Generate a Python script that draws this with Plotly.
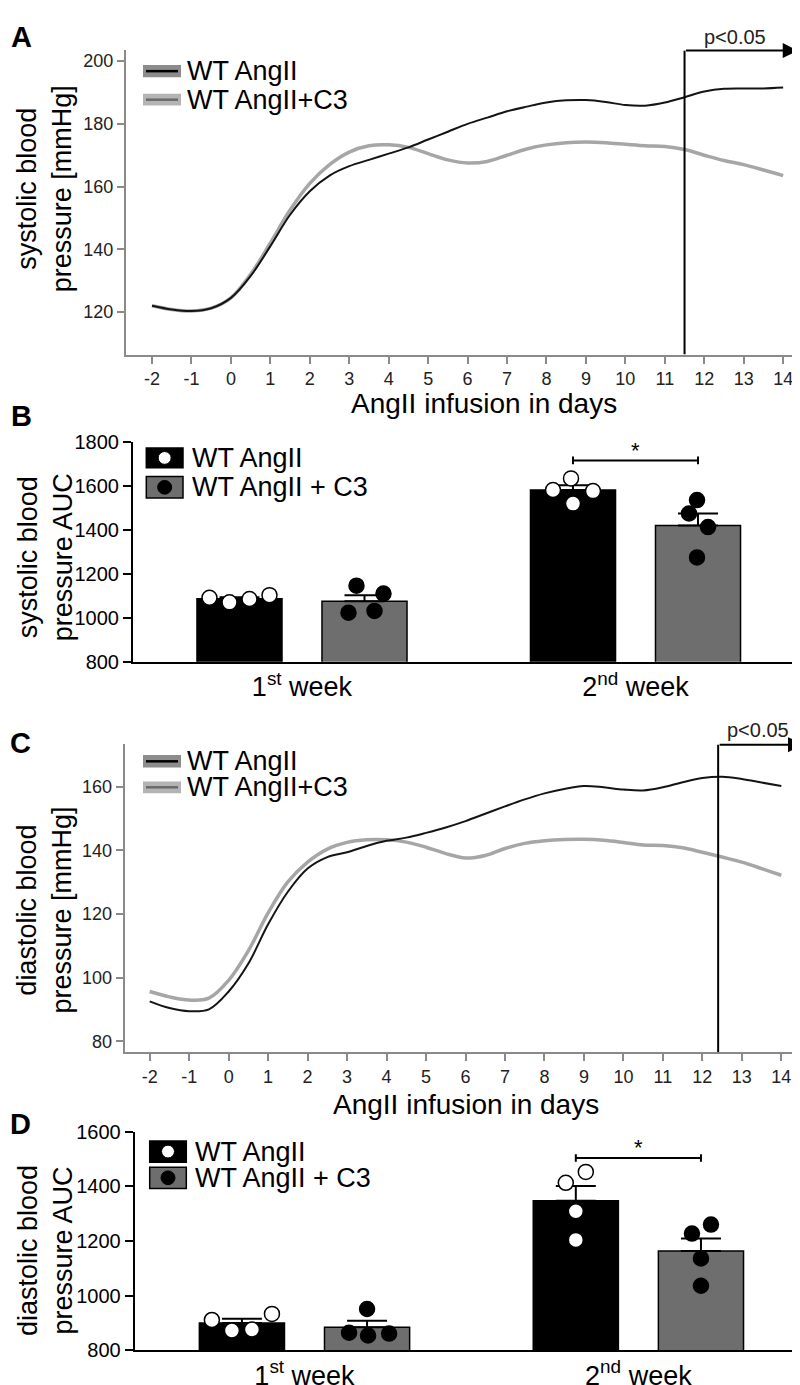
import plotly.graph_objects as go

# ---------------- data ----------------
days = [-2, -1.5, -1, -0.5, 0, 0.5, 1, 1.5, 2, 2.5, 3, 3.5, 4, 4.5, 5, 5.5, 6,
        6.5, 7, 7.5, 8, 8.5, 9, 9.5, 10, 10.5, 11, 11.5, 12, 12.5, 13, 13.5, 14]
day_ticks = [-2, -1, 0, 1, 2, 3, 4, 5, 6, 7, 8, 9, 10, 11, 12, 13, 14]
day_tick_text = ["-2", "-1", "0", "1", "2", "3", "4", "5", "6", "7", "8", "9", "10",
                 "11", "12", "13", "14"]

sbp_wt = [122.0, 120.8, 120.3, 121.2, 124.5, 131.5, 141.0, 151.0, 158.5, 163.5, 166.5,
          168.5, 170.5, 172.5, 175.0, 177.5, 180.0, 182.0, 184.0, 185.5, 186.8, 187.5,
          187.6, 187.0, 186.0, 185.8, 186.8, 188.5, 190.3, 191.2, 191.3, 191.3, 191.6]
sbp_c3 = [122.0, 120.8, 120.3, 121.2, 124.5, 132.0, 142.0, 152.5, 161.0, 167.0, 171.0,
          173.0, 173.3, 172.5, 170.5, 168.5, 167.5, 168.0, 170.0, 172.0, 173.3, 174.0,
          174.2, 174.0, 173.5, 173.0, 172.8, 171.8, 170.0, 168.3, 167.0, 165.3, 163.5]
dbp_wt = [92.6, 90.5, 89.5, 90.1, 95.7, 104.5, 116.8, 127.0, 134.3, 137.9, 139.4,
          141.4, 143.0, 144.0, 145.5, 147.2, 149.2, 151.5, 153.8, 156.0, 157.9, 159.3,
          160.2, 159.8, 159.1, 158.8, 159.8, 161.4, 162.7, 163.1, 162.4, 161.3, 160.2]
dbp_c3 = [95.7, 94.0, 93.0, 93.6, 99.2, 108.5, 120.4, 130.1, 136.3, 140.4, 142.5,
          143.3, 143.3, 142.6, 141.0, 139.0, 137.6, 138.4, 140.6, 142.2, 143.0, 143.4,
          143.5, 143.2, 142.5, 141.7, 141.5, 140.8, 139.4, 137.9, 136.3, 134.3, 132.2]
sig_day_sbp = 11.5
sig_day_dbp = 12.4

week_labels = ["1<sup>st</sup> week", "2<sup>nd</sup> week"]
week_pos = [0, 1]

sbp_auc_wt_mean = [1087, 1582]
sbp_auc_wt_sem = [6, 22]
sbp_auc_c3_mean = [1075, 1420]
sbp_auc_c3_sem = [27, 55]
sbp_auc_wt_pts = [[1091, 1070, 1085, 1103], [1582, 1635, 1577, 1520]]
sbp_auc_c3_pts = [[1146, 1110, 1023, 1031], [1536, 1475, 1413, 1275]]

dbp_auc_wt_mean = [900, 1347]
dbp_auc_wt_sem = [15, 54]
dbp_auc_c3_mean = [884, 1163]
dbp_auc_c3_sem = [24, 46]
dbp_auc_wt_pts = [[911, 872, 876, 933], [1413, 1453, 1309, 1204]]
dbp_auc_c3_pts = [[951, 864, 854, 861], [1227, 1260, 1136, 1036]]

# ---------------- style / layout constants ----------------
W, H = 800, 1385
FONT = "Liberation Sans, Arial, sans-serif"
BAR_SHIFT = 0.1874
BAR_W = 0.255
PX_PER_UNIT = 333.5
# horizontal jitter of the dots (pixels from bar centre)
jit_b_wt = [[-30, -10, 10, 30], [-20, -2, 20, 0]]
jit_b_c3 = [[-8, 19, -16, 10], [-1, -9, 10, -1]]
jit_d_wt = [[-30, -10, 10, 30], [-10, 10, 0, 0]]
jit_d_c3 = [[0, -18, 1, 22], [-9, 10, 0, 0]]


def X(p):
    return p / W


def Y(p):
    return 1 - p / H


fig = go.Figure()

# ---- Panel A / C line traces ----
for xa, ya, wt, c3 in (("x", "y", sbp_wt, sbp_c3), ("x3", "y3", dbp_wt, dbp_c3)):
    fig.add_trace(go.Scatter(x=days, y=c3, mode="lines", xaxis=xa, yaxis=ya,
                             line=dict(color="#a6a6a6", width=3.5, shape="spline", smoothing=1),
                             showlegend=False, hoverinfo="skip"))
    fig.add_trace(go.Scatter(x=days, y=wt, mode="lines", xaxis=xa, yaxis=ya,
                             line=dict(color="#141414", width=2, shape="spline", smoothing=1),
                             showlegend=False, hoverinfo="skip"))


# ---- Panel B / D bar traces ----
def bars(xa, ya, wt_m, wt_s, c3_m, c3_s, wt_pts, c3_pts, jwt, jc3):
    xw = [p - BAR_SHIFT for p in week_pos]
    xc = [p + BAR_SHIFT for p in week_pos]
    fig.add_trace(go.Bar(x=xw, y=wt_m, width=BAR_W, xaxis=xa, yaxis=ya,
                         marker=dict(color="black", line=dict(color="black", width=1.5)),
                         error_y=dict(type="data", array=wt_s, arrayminus=[0] * len(wt_s),
                                      symmetric=False, color="black", thickness=2, width=20),
                         showlegend=False, hoverinfo="skip"))
    fig.add_trace(go.Bar(x=xc, y=c3_m, width=BAR_W, xaxis=xa, yaxis=ya,
                         marker=dict(color="#6e6e6e", line=dict(color="black", width=1.5)),
                         error_y=dict(type="data", array=c3_s, arrayminus=[0] * len(c3_s),
                                      symmetric=False, color="black", thickness=2, width=20),
                         showlegend=False, hoverinfo="skip"))
    for i in range(len(week_pos)):
        fig.add_trace(go.Scatter(
            x=[xw[i] + j / PX_PER_UNIT for j in jwt[i]], y=wt_pts[i], mode="markers",
            xaxis=xa, yaxis=ya,
            marker=dict(size=15, color="white", line=dict(color="black", width=1.5)),
            showlegend=False, hoverinfo="skip"))
        fig.add_trace(go.Scatter(
            x=[xc[i] + j / PX_PER_UNIT for j in jc3[i]], y=c3_pts[i], mode="markers",
            xaxis=xa, yaxis=ya,
            marker=dict(size=15, color="black", line=dict(color="black", width=1.5)),
            showlegend=False, hoverinfo="skip"))


bars("x2", "y2", sbp_auc_wt_mean, sbp_auc_wt_sem, sbp_auc_c3_mean, sbp_auc_c3_sem,
     sbp_auc_wt_pts, sbp_auc_c3_pts, jit_b_wt, jit_b_c3)
bars("x4", "y4", dbp_auc_wt_mean, dbp_auc_wt_sem, dbp_auc_c3_mean, dbp_auc_c3_sem,
     dbp_auc_wt_pts, dbp_auc_c3_pts, jit_d_wt, jit_d_c3)

GRAY_AX = "#8a8a8a"


def line_x(domain, rng, anchor):
    return dict(domain=domain, range=rng, anchor=anchor, tickmode="array", tickvals=day_ticks,
                ticktext=day_tick_text,
                ticks="outside", ticklen=7, tickwidth=1.5, tickcolor=GRAY_AX,
                showline=True, linecolor=GRAY_AX, linewidth=2, showgrid=False, zeroline=False,
                tickfont=dict(family=FONT, size=18, color="#222"), fixedrange=True)


def line_y(domain, rng, anchor, tv):
    return dict(domain=domain, range=rng, anchor=anchor, tickmode="array", tickvals=tv,
                ticks="outside", ticklen=7, tickwidth=1.5, tickcolor=GRAY_AX,
                showline=True, linecolor=GRAY_AX, linewidth=2, showgrid=False, zeroline=False,
                tickfont=dict(family=FONT, size=18, color="#222"), fixedrange=True)


def bar_x(domain, rng, anchor):
    return dict(domain=domain, range=rng, anchor=anchor, tickmode="array", tickvals=week_pos,
                ticktext=week_labels, ticks="", showline=True, linecolor="black", linewidth=2,
                showgrid=False, zeroline=False,
                tickfont=dict(family=FONT, size=27, color="black"), fixedrange=True)


def bar_y(domain, rng, anchor, dtick):
    return dict(domain=domain, range=rng, anchor=anchor, tick0=rng[0], dtick=dtick,
                ticks="outside", ticklen=8, tickwidth=2, tickcolor="black",
                showline=True, linecolor="black", linewidth=2, showgrid=False, zeroline=False,
                tickfont=dict(family=FONT, size=20, color="black"), fixedrange=True)


fig.update_layout(
    width=W, height=H, margin=dict(l=0, r=0, t=0, b=0),
    paper_bgcolor="white", plot_bgcolor="white", barmode="overlay",
    font=dict(family=FONT, color="black"),
    xaxis=line_x([X(118), X(800)], [-2.66, 14.63], "y"),
    yaxis=line_y([Y(341), Y(31.7)], [106.4, 203.5], "x", [120, 140, 160, 180, 200]),
    xaxis2=bar_x([X(125), X(798)], [-0.5067, 1.5112], "y2"),
    yaxis2=bar_y([Y(653), Y(430)], [800, 1800], "x2", 200),
    xaxis3=line_x([X(116.7), X(797)], [-2.633, 14.6], "y3"),
    yaxis3=line_y([Y(1050), Y(736.7)], [76.6, 173.4], "x3", [80, 100, 120, 140, 160]),
    xaxis4=bar_x([X(126.7), X(798)], [-0.5085, 1.502], "y4"),
    yaxis4=bar_y([Y(1352.7), Y(1130.7)], [800, 1600], "x4", 200),
)

shapes = []
ann = []


def txt(text, x, y, size=27, xanchor="center", yanchor="middle", angle=0, bold=False, color="black"):
    ann.append(dict(text=("<b>%s</b>" % text) if bold else text, x=X(x), y=Y(y),
                    xref="paper", yref="paper", showarrow=False, xanchor=xanchor,
                    yanchor=yanchor, textangle=angle,
                    font=dict(family=FONT, size=size, color=color)))


# panel letters
txt("A", 1, 18, size=29, xanchor="left", bold=True)
txt("B", 1, 403, size=29, xanchor="left", bold=True)
txt("C", 0, 736, size=29, xanchor="left", bold=True)
txt("D", 0, 1123, size=29, xanchor="left", bold=True)

# axis titles
txt("systolic blood<br>pressure [mmHg]", 36, 173, angle=-90)
txt("systolic blood<br>pressure AUC", 37, 547, angle=-90)
txt("diastolic blood<br>pressure [mmHg]", 37, 906, angle=-90)
txt("diastolic blood<br>pressure AUC", 37, 1252, angle=-90)
txt("AngII infusion in days", 476, 391, size=28)
txt("AngII infusion in days", 458, 1103, size=28)

# line-chart legends (A, C)
for r1, r2 in ((53, 82), (754.3, 780.7)):
    shapes.append(dict(type="rect", xref="paper", yref="paper", x0=X(135), x1=X(173),
                       y0=Y(r1 + 6.3), y1=Y(r1 - 6.3), fillcolor="#8c8c8c", line=dict(width=0)))
    shapes.append(dict(type="line", xref="paper", yref="paper", x0=X(138), x1=X(170),
                       y0=Y(r1), y1=Y(r1), line=dict(color="black", width=2.5)))
    shapes.append(dict(type="rect", xref="paper", yref="paper", x0=X(135), x1=X(173),
                       y0=Y(r2 + 6), y1=Y(r2 - 6), fillcolor="#b4b4b4", line=dict(width=0)))
    shapes.append(dict(type="line", xref="paper", yref="paper", x0=X(138), x1=X(170),
                       y0=Y(r2), y1=Y(r2), line=dict(color="#6a6a6a", width=2.5)))
    txt("WT AngII", 177, r1, xanchor="left")
    txt("WT AngII+C3", 177, r2, xanchor="left")

# bar-chart legends (B, D)
for bx0, bx1, t1, b1, t2, b2, tx in ((138.3, 175, 436, 456, 465, 486.7, 182),
                                      (141.7, 178.3, 1140, 1161.7, 1166.7, 1188.3, 185)):
    cx = (bx0 + bx1) / 2
    shapes.append(dict(type="rect", xref="paper", yref="paper", x0=X(bx0), x1=X(bx1),
                       y0=Y(b1), y1=Y(t1), fillcolor="black", line=dict(color="black", width=1.5)))
    c1 = (t1 + b1) / 2
    shapes.append(dict(type="circle", xref="paper", yref="paper", x0=X(cx - 6.5), x1=X(cx + 6.5),
                       y0=Y(c1 + 6.5), y1=Y(c1 - 6.5), fillcolor="white", line=dict(color="black", width=1)))
    shapes.append(dict(type="rect", xref="paper", yref="paper", x0=X(bx0), x1=X(bx1),
                       y0=Y(b2), y1=Y(t2), fillcolor="#6e6e6e", line=dict(color="black", width=1.5)))
    c2 = (t2 + b2) / 2
    shapes.append(dict(type="circle", xref="paper", yref="paper", x0=X(cx - 7), x1=X(cx + 7),
                       y0=Y(c2 + 7), y1=Y(c2 - 7), fillcolor="black", line=dict(color="black", width=1)))
    txt("WT AngII", tx, c1, xanchor="left")
    txt("WT AngII + C3", tx, c2, xanchor="left")

# significance marker lines with arrows (A, C)
for xa, ya, sd, ybot, ytop, tip, px, py in (("x", "y", sig_day_sbp, 106.4, 203.4, 14.37, 727, 18),
                                             ("x3", "y3", sig_day_dbp, 76.6, 173.2, 14.55, 750, 722)):
    shapes.append(dict(type="line", xref=xa, yref=ya, x0=sd, x1=sd, y0=ybot, y1=ytop,
                       line=dict(color="black", width=2)))
    ann.append(dict(x=tip, y=ytop, ax=sd, ay=ytop, xref=xa, yref=ya, axref=xa, ayref=ya,
                    text="", showarrow=True, arrowhead=2, arrowsize=1.5, arrowwidth=2,
                    arrowcolor="black", standoff=0))
    txt("p&lt;0.05", px, py, size=20, color="#222")

# brackets with asterisk (B, D)
for xa, ya, yb, cap, ys in (("x2", "y2", 1717, 18, 1762), ("x4", "y4", 1504, 14, 1543)):
    x0 = week_pos[1] - BAR_SHIFT
    x1 = week_pos[1] + BAR_SHIFT
    shapes.append(dict(type="line", xref=xa, yref=ya, x0=x0, x1=x1, y0=yb, y1=yb,
                       line=dict(color="black", width=2)))
    for xx in (x0, x1):
        shapes.append(dict(type="line", xref=xa, yref=ya, x0=xx, x1=xx, y0=yb - cap, y1=yb + cap,
                           line=dict(color="black", width=2)))
    ann.append(dict(x=week_pos[1], y=ys, xref=xa, yref=ya, text="*", showarrow=False,
                    font=dict(family=FONT, size=22, color="black")))

fig.update_layout(shapes=shapes, annotations=ann)
fig.write_html("out.html")
